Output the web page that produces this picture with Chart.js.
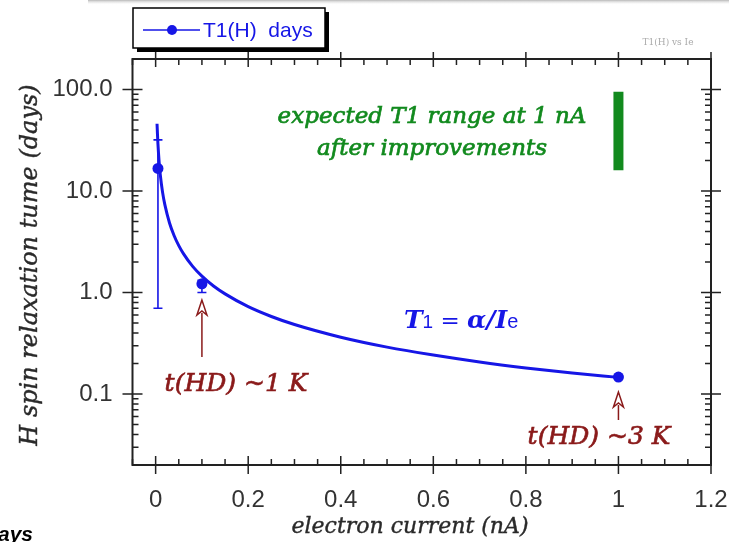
<!DOCTYPE html>
<html>
<head>
<meta charset="utf-8">
<script src="https://cdn.jsdelivr.net/npm/chart.js@4.4.1/dist/chart.umd.min.js"></script>
<style>
body { margin: 0; background: #fff; }
canvas { display: block; }
</style>
</head>
<body>
<canvas id="chart_t1" width="729" height="542"></canvas>
<script>
// measured T1 points (days) vs electron current (nA)
const current = [0.005, 0.1, 1.0];
const t1Days = [16.7, 1.22, 0.147];
const t1Low = [0.70, 1.0, 0.147];
const t1High = [31.9, 1.32, 0.147];

// T1 = alpha/Ie curve
const fitCurrent = [0.003, 0.004, 0.005, 0.0075, 0.01, 0.015, 0.02, 0.03, 0.04, 0.05, 0.06, 0.08, 0.1, 0.125, 0.15, 0.2, 0.25, 0.3, 0.4, 0.5, 0.6, 0.7, 0.8, 0.9, 1.0];
const fitDays = [46, 36, 29, 19.4, 14.5, 9.7, 7.3, 4.85, 3.63, 2.9, 2.42, 1.81, 1.45, 1.16, 0.97, 0.726, 0.581, 0.484, 0.363, 0.29, 0.242, 0.207, 0.181, 0.161, 0.146];

// expected range at 1 nA after improvements
const expectedCurrent = [1.0, 1.0];
const expectedDays = [16, 95];

const xTicks = [0, 0.2, 0.4, 0.6, 0.8, 1, 1.2];
const yTicks = [0.1, 1, 10, 100];

const blue = '#1616e6';
const green = '#128a1e';
const darkRed = '#8a1a1a';
const axisCol = '#222';
const serif = '"DejaVu Serif", serif';
const sans = '"Liberation Sans", Arial, sans-serif';

function pts(xs, ys) {
    return xs.map((x, i) => ({x: x, y: ys[i]}));
}

// text a little heavier than the regular face
function heavyText(c, txt, x, y, w) {
    c.fillText(txt, x, y);
    c.lineWidth = w;
    c.strokeStyle = c.fillStyle;
    c.strokeText(txt, x, y);
}

// error bars under the markers
const errorBars = {
    id: 'errorBars',
    beforeDatasetsDraw(chart) {
        const c = chart.ctx, xs = chart.scales.x, ys = chart.scales.y;
        c.save();
        c.strokeStyle = blue;
        c.lineWidth = 1.6;
        for (let i = 0; i < current.length; i++) {
            const px = xs.getPixelForValue(current[i]);
            const lo = ys.getPixelForValue(t1Low[i]);
            const hi = ys.getPixelForValue(t1High[i]);
            if (Math.abs(lo - hi) < 2) continue;
            c.beginPath();
            c.moveTo(px, lo); c.lineTo(px, hi);
            c.moveTo(px - 4.5, lo); c.lineTo(px + 4.5, lo);
            c.moveTo(px - 4.5, hi); c.lineTo(px + 4.5, hi);
            c.stroke();
        }
        c.restore();
    }
};

// box frame with ticks on all four sides
const frame = {
    id: 'frame',
    afterDatasetsDraw(chart) {
        const c = chart.ctx, a = chart.chartArea;
        const xs = chart.scales.x, ys = chart.scales.y;
        c.save();
        c.strokeStyle = axisCol;
        c.lineWidth = 2;
        c.strokeRect(a.left, a.top, a.right - a.left, a.bottom - a.top);
        c.lineWidth = 1.5;
        c.beginPath();
        // x major + minor
        for (let v = -0.05; v <= 1.2001; v += 0.05) {
            const px = xs.getPixelForValue(v);
            const major = xTicks.some(t => Math.abs(t - v) < 1e-6);
            if (major) {
                c.moveTo(px, a.bottom - 9); c.lineTo(px, a.bottom + 9);
                c.moveTo(px, a.top - 7); c.lineTo(px, a.top + 8);
            } else {
                c.moveTo(px, a.bottom); c.lineTo(px, a.bottom - 6);
                c.moveTo(px, a.top); c.lineTo(px, a.top + 6);
            }
        }
        // y major + minor
        for (let d = 0.01; d < 300; d *= 10) {
            for (let k = 1; k < 10; k++) {
                const v = d * k;
                if (v < ys.min || v > ys.max) continue;
                const py = ys.getPixelForValue(v);
                if (k === 1) {
                    c.moveTo(a.left - 10, py); c.lineTo(a.left + 10, py);
                    c.moveTo(a.right - 10, py); c.lineTo(a.right + 10, py);
                } else {
                    c.moveTo(a.left, py); c.lineTo(a.left + 6, py);
                    c.moveTo(a.right, py); c.lineTo(a.right - 6, py);
                }
            }
        }
        c.stroke();
        c.restore();
    }
};

function openArrow(c, x, tip, base, end) {
    c.beginPath();
    c.moveTo(x, base); c.lineTo(x, end);
    c.stroke();
    c.beginPath();
    c.moveTo(x, tip);
    c.lineTo(x - 5, base + 2);
    c.lineTo(x, base - 2);
    c.lineTo(x + 5, base + 2);
    c.closePath();
    c.fillStyle = '#fff';
    c.fill();
    c.stroke();
}

const notes = {
    id: 'notes',
    afterDraw(chart) {
        const c = chart.ctx, xs = chart.scales.x;
        c.save();

        // faint bar at very top
        const g = c.createLinearGradient(0, 0, 0, 5);
        g.addColorStop(0, '#b8b8b8');
        g.addColorStop(1, 'rgba(255,255,255,0)');
        c.fillStyle = g;
        c.fillRect(88, 0, 641, 5);

        // legend box with drop shadow
        c.fillStyle = '#000';
        c.fillRect(137, 12, 192, 40);
        c.fillStyle = '#fff';
        c.fillRect(133, 8, 192, 40);
        c.strokeStyle = '#000';
        c.lineWidth = 1.5;
        c.strokeRect(133, 8, 192, 40);
        c.strokeStyle = blue;
        c.lineWidth = 1.6;
        c.beginPath(); c.moveTo(143, 30); c.lineTo(200, 30); c.stroke();
        c.fillStyle = blue;
        c.beginPath(); c.arc(172, 30, 5, 0, Math.PI * 2); c.fill();
        c.font = '21px ' + sans;
        c.textBaseline = 'middle';
        c.textAlign = 'left';
        c.fillText(chart.data.datasets[0].label, 203, 31);

        c.fillStyle = '#aaa';
        c.font = '9px ' + serif;
        c.textAlign = 'center';
        c.fillText('T1(H) vs Ie', 668, 43);

        // axis titles
        c.fillStyle = '#2a2a2a';
        c.font = 'italic 22px ' + serif;
        c.textAlign = 'center';
        c.textBaseline = 'middle';
        heavyText(c, 'electron current (nA)', 410, 527, 0.4);
        c.save();
        c.translate(31, 265);
        c.rotate(-Math.PI / 2);
        c.font = 'italic 24px ' + serif;
        heavyText(c, 'H spin relaxation tume (days)', 0, 0, 0.4);
        c.restore();

        // green note
        c.fillStyle = green;
        c.font = 'italic 23px ' + serif;
        c.textBaseline = 'alphabetic';
        heavyText(c, 'expected T1 range at 1 nA', 432, 123, 0.7);
        heavyText(c, 'after improvements', 432, 155, 0.7);

        // formula
        c.fillStyle = blue;
        c.textAlign = 'left';
        let x = 404;
        const parts = [
            ['T', 'italic bold 25px ' + serif],
            ['1', '19px ' + sans],
            [' = ', '23px ' + serif],
            ['\u03b1/', 'italic bold 25px ' + serif],
            ['I', 'italic bold 25px ' + serif],
            ['e', '20px ' + sans]
        ];
        for (const p of parts) {
            c.font = p[1];
            c.fillText(p[0], x, 328);
            x += c.measureText(p[0]).width;
        }

        // temperature arrows
        c.strokeStyle = darkRed;
        c.lineWidth = 1.5;
        openArrow(c, xs.getPixelForValue(0.1), 300, 313, 357);
        openArrow(c, xs.getPixelForValue(1.0), 392, 405, 420);
        c.fillStyle = darkRed;
        c.textAlign = 'center';
        c.font = 'italic 25px ' + serif;
        heavyText(c, 't(HD) ~1 K', 236, 391, 0.7);
        heavyText(c, 't(HD) ~3 K', 599, 444, 0.7);

        // cut-off text at lower left
        c.fillStyle = '#000';
        c.textAlign = 'right';
        c.font = 'bold italic 21px ' + sans;
        c.fillText('days', 33, 541);
        c.restore();
    }
};

const ctx = document.getElementById('chart_t1').getContext('2d');
const t1Chart = new Chart(ctx, {
    type: 'scatter',
    data: {
        datasets: [
            {
                label: 'T1(H)  days',
                data: pts(current, t1Days),
                showLine: false,
                pointRadius: 5.5,
                backgroundColor: blue,
                borderColor: blue,
                borderWidth: 0
            },
            {
                label: 'fit',
                data: pts(fitCurrent, fitDays),
                showLine: true,
                pointRadius: 0,
                borderColor: blue,
                borderWidth: 3,
                cubicInterpolationMode: 'monotone'
            },
            {
                label: 'expected',
                data: pts(expectedCurrent, expectedDays),
                showLine: true,
                pointRadius: 0,
                borderColor: green,
                borderWidth: 10,
                borderCapStyle: 'butt'
            }
        ]
    },
    options: {
        responsive: false,
        animation: false,
        devicePixelRatio: 1,
        layout: {
            padding: {top: 59, right: 18, left: 0, bottom: 0}
        },
        plugins: {
            legend: {display: false},
            tooltip: {enabled: false}
        },
        scales: {
            x: {
                type: 'linear',
                min: -0.05,
                max: 1.2,
                grid: {display: false},
                border: {display: false},
                afterBuildTicks: s => { s.ticks = xTicks.map(v => ({value: v})); },
                afterFit: s => { s.height = 77; s.paddingLeft = 0; s.paddingRight = 0; },
                ticks: {
                    autoSkip: false,
                    maxRotation: 0,
                    padding: 13,
                    color: '#333',
                    font: {family: 'Liberation Sans', size: 24},
                    callback: v => String(v)
                }
            },
            y: {
                type: 'logarithmic',
                min: 0.02,
                max: 200,
                grid: {display: false},
                border: {display: false},
                afterBuildTicks: s => { s.ticks = yTicks.map(v => ({value: v})); },
                afterFit: s => { s.width = 132.5; s.paddingTop = 0; s.paddingBottom = 0; },
                ticks: {
                    autoSkip: false,
                    padding: 12,
                    color: '#333',
                    font: {family: 'Liberation Sans', size: 24},
                    callback: v => Number(v).toFixed(1)
                }
            }
        }
    },
    plugins: [errorBars, frame, notes]
});
</script>
</body>
</html>
